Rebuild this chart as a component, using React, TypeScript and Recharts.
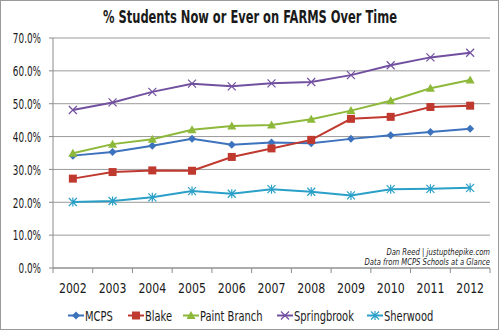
import { LineChart, Line, XAxis, YAxis, CartesianGrid } from 'recharts';

const years = ['2002', '2003', '2004', '2005', '2006', '2007', '2008', '2009', '2010', '2011', '2012'];
const mcps = [34.2, 35.3, 37.2, 39.3, 37.5, 38.2, 38.0, 39.3, 40.4, 41.4, 42.4];
const blake = [27.2, 29.2, 29.7, 29.6, 33.8, 36.4, 39.0, 45.4, 46.0, 49.0, 49.4];
const paintBranch = [34.9, 37.7, 39.2, 42.1, 43.2, 43.5, 45.3, 47.9, 50.9, 54.7, 57.2];
const springbrook = [48.1, 50.4, 53.6, 56.1, 55.3, 56.2, 56.6, 58.7, 61.7, 64.1, 65.5];
const sherwood = [20.1, 20.4, 21.5, 23.4, 22.6, 24.0, 23.2, 22.1, 24.0, 24.1, 24.4];
const yTicks = [0, 10, 20, 30, 40, 50, 60, 70];

const series = [
  { key: 'mcps', name: 'MCPS', color: '#3d72bd', shape: 'diamond', values: mcps, legendX: 68 },
  { key: 'blake', name: 'Blake', color: '#c0392f', shape: 'square', values: blake, legendX: 128 },
  { key: 'paint', name: 'Paint Branch', color: '#8db83a', shape: 'triangle', values: paintBranch, legendX: 183 },
  { key: 'spring', name: 'Springbrook', color: '#7250a0', shape: 'x', values: springbrook, legendX: 277 },
  { key: 'sher', name: 'Sherwood', color: '#2aa0c8', shape: 'star', values: sherwood, legendX: 367 },
];

const data = years.map((y, i) => {
  const row: Record<string, string | number> = { year: y };
  series.forEach(s => { row[s.key] = s.values[i]; });
  return row;
});

const FONT = "'DejaVu Sans Condensed', 'DejaVu Sans', sans-serif";

function Marker({ cx, cy, shape, color }: { cx: number; cy: number; shape: string; color: string }) {
  if (cx == null || cy == null) return null;
  if (shape === 'diamond') {
    return <path d={`M${cx},${cy - 4}L${cx + 4},${cy}L${cx},${cy + 4}L${cx - 4},${cy}Z`} fill={color} />;
  }
  if (shape === 'square') {
    return <rect x={cx - 4} y={cy - 4} width={8} height={8} fill={color} />;
  }
  if (shape === 'triangle') {
    return <path d={`M${cx},${cy - 4.5}L${cx + 4.5},${cy + 3.5}L${cx - 4.5},${cy + 3.5}Z`} fill={color} />;
  }
  if (shape === 'x') {
    return (
      <path d={`M${cx - 4},${cy - 4}L${cx + 4},${cy + 4}M${cx - 4},${cy + 4}L${cx + 4},${cy - 4}`}
        stroke={color} strokeWidth={1.2} fill="none" />
    );
  }
  return (
    <path d={`M${cx - 4},${cy - 4}L${cx + 4},${cy + 4}M${cx - 4},${cy + 4}L${cx + 4},${cy - 4}M${cx},${cy - 4.5}L${cx},${cy + 4.5}`}
      stroke={color} strokeWidth={1.2} fill="none" />
  );
}

// DejaVu condensed squeezed sideways to look like the original condensed face
function NText({ x, y, anchor = 'start', size = 14, sx = 0.76, bold = false, italic = false, children }: any) {
  return (
    <g transform={`translate(${x},${y}) scale(${sx},1)`}>
      <text x={0} y={0} textAnchor={anchor} dominantBaseline="central" fontSize={size} fill="#1a1a1a"
        fontFamily={FONT} fontWeight={bold ? 'bold' : 'normal'} fontStyle={italic ? 'italic' : 'normal'}>
        {children}
      </text>
    </g>
  );
}

const HALF_STEP = 19.85;

function XTick(props: any) {
  const { x, y, payload, index } = props;
  return (
    <g>
      <line x1={x - HALF_STEP} x2={x - HALF_STEP} y1={y - 8} y2={y - 3} stroke="#8c8c8c" />
      {index === years.length - 1 && (
        <line x1={x + HALF_STEP} x2={x + HALF_STEP} y1={y - 8} y2={y - 3} stroke="#8c8c8c" />
      )}
      <NText x={x} y={y + 12} anchor="middle" size={14.5} sx={0.84}>{payload.value}</NText>
    </g>
  );
}

function YTick(props: any) {
  const { x, y, payload } = props;
  return <NText x={x - 6} y={y} anchor="end" size={14.5} sx={0.68}>{`${payload.value.toFixed(1)}%`}</NText>;
}

export default function App() {
  return (
    <div style={{ position: 'absolute', left: 0, top: 0, width: 500, height: 331, background: '#fff' }}>
      <div style={{ position: 'absolute', left: 0, top: 0, width: 497, height: 328, border: '1.5px solid #9a9a9a' }} />
      <LineChart width={500} height={331} data={data} margin={{ top: 38, right: 10, bottom: 0, left: 0 }}>
        <CartesianGrid vertical={false} stroke="#9a9a9a" />
        <XAxis
          dataKey="year"
          height={63}
          padding={{ left: 19.85, right: 19.85 }}
          axisLine={{ stroke: '#8c8c8c' }}
          tickLine={false}
          tick={<XTick />}
          interval={0}
        />
        <YAxis
          width={53}
          domain={[0, 70]}
          ticks={yTicks}
          axisLine={{ stroke: '#8c8c8c' }}
          tickLine={{ stroke: '#8c8c8c' }}
          tickSize={4}
          tick={<YTick />}
        />
        {series.map(s => (
          <Line
            key={s.key}
            dataKey={s.key}
            name={s.name}
            stroke={s.color}
            strokeWidth={2}
            isAnimationActive={false}
            dot={(p: any) => <Marker key={`${s.key}-${p.index}`} cx={p.cx} cy={p.cy} shape={s.shape} color={s.color} />}
            activeDot={false}
          />
        ))}
      </LineChart>
      <svg width={500} height={331} style={{ position: 'absolute', left: 0, top: 0, pointerEvents: 'none' }}>
        <NText x={250} y={17} anchor="middle" size={17} sx={0.75} bold>
          % Students Now or Ever on FARMS Over Time
        </NText>
        <NText x={490} y={252} anchor="end" size={9.5} sx={0.8} italic>
          Dan Reed | justupthepike.com
        </NText>
        <NText x={490} y={261.5} anchor="end" size={9.5} sx={0.8} italic>
          Data from MCPS Schools at a Glance
        </NText>
        {series.map(s => (
          <g key={s.key}>
            <line x1={s.legendX} x2={s.legendX + 16} y1={315.5} y2={315.5} stroke={s.color} strokeWidth={2} />
            <Marker cx={s.legendX + 8} cy={315.5} shape={s.shape} color={s.color} />
            <NText x={s.legendX + 17} y={315.5} size={14.5}>{s.name}</NText>
          </g>
        ))}
      </svg>
    </div>
  );
}
